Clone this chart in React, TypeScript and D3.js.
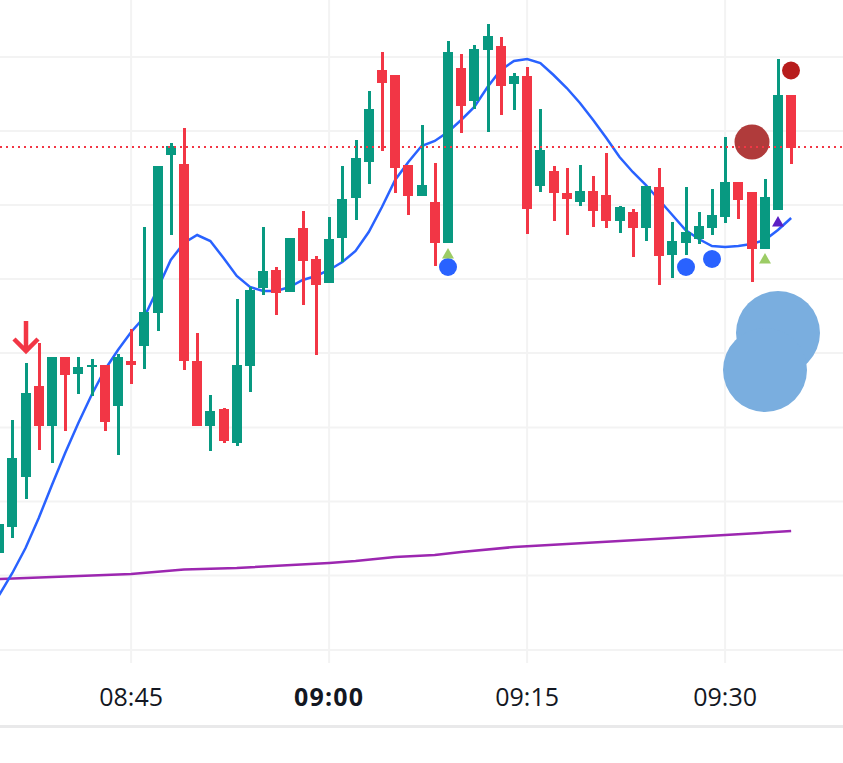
import { useEffect, useRef } from "react";
import * as d3 from "d3";

// one candle per minute, 08:35 to 09:35
const opens = [147,173,223,314,274,343,326,333,335,294,339,354,387,545,536,339,274,291,257,334,412,430,408,472,441,417,462,502,538,630,625,535,504,498,457,632,599,650,654,616,624,514,529,507,498,509,505,479,488,472,513,445,457,461,472,483,518,508,451,490,605];
const highs = [176,280,337,357,343,343,343,341,335,346,371,473,534,557,572,367,305,292,401,413,473,433,462,489,444,483,534,560,609,648,625,535,575,537,659,646,655,676,663,627,633,591,534,532,535,524,547,494,491,514,532,478,513,488,511,563,518,508,521,641,605];
const lows = [147,162,201,250,237,269,306,304,269,245,316,331,369,465,330,274,249,257,254,308,405,385,408,395,345,417,438,480,516,549,507,485,504,434,457,567,591,568,585,590,466,508,479,465,494,473,472,467,443,459,415,422,445,456,465,477,481,418,451,490,536];
const closes = [176,242,307,274,343,325,333,335,278,343,335,388,534,554,339,274,289,259,335,410,429,407,462,439,415,461,501,542,591,617,532,504,515,457,648,594,651,664,614,624,491,550,507,501,509,489,479,493,472,514,444,459,468,474,485,518,500,451,503,605,552];

const blueLine = [105,127,152,182,215,247,277,305,330,350,368,383,411,440,457,465,459,442,424,413,409,409,413,420,424,430,438,449,468,493,520,538,554,559,568,580,593,613,630,639,641,637,625,612,597,580,562,543,528,515,500,485,470,461,454,453,454,456,460,470,482];
const purpleMinutes = [0,10,14,18,25,27,30,33,35,39,43,55,60];
const purpleLine = [121,126,130.5,132,137,139,143,145,148,153,156,165,169];

const gridPrices = [50,124.5,198.5,272.5,347,421,495,569,643];
const tickLabels = ["08:45","09:00","09:15","09:30"];
const lastPrice = 553;

const blueDots: [number, number][] = [[34,433],[52,433],[54,441]];
const greenTriangles: [number, number][] = [[34,445],[58,440]];
const purpleTriangles: [number, number][] = [[59,477]];
const blueBubbles: [number, number][] = [[59,367],[58,330]];
const redBubbles: [number, number][] = [[57,558]];
const redDots: [number, number][] = [[60,629.5]];
const sellArrows: [number, number][] = [[2,349]];

const W = 843, H = 763;
const UP = "#089981", DOWN = "#f23645";

function timeAt(label: string) {
  const [h, m] = label.split(":").map(Number);
  return new Date(Date.UTC(2024, 0, 2, h, m));
}

export default function App() {
  const ref = useRef<SVGSVGElement>(null);

  useEffect(() => {
    if (!ref.current) return;
    const svg = d3.select(ref.current);
    svg.selectAll("*").remove();

    const t0 = timeAt("08:35");
    const minute = (i: number) => d3.utcMinute.offset(t0, i);
    const x = d3.scaleUtc().domain([t0, minute(60)]).range([-0.85, 791.15]);
    const y = d3.scaleLinear().domain([50, 643]).range([650, 57]);
    const px = (i: number) => Math.round(x(minute(i)));

    // grid
    svg.append("g").selectAll("line").data(gridPrices).join("line")
      .attr("x1", 0).attr("x2", W)
      .attr("y1", d => y(d)).attr("y2", d => y(d))
      .attr("stroke", "#f3f3f3").attr("stroke-width", 2);
    svg.append("g").selectAll("line").data(tickLabels).join("line")
      .attr("x1", d => x(timeAt(d))).attr("x2", d => x(timeAt(d)))
      .attr("y1", 0).attr("y2", 663)
      .attr("stroke", "#f3f3f3").attr("stroke-width", 2);

    // big bubbles sit under the candles
    const dots = (data: [number, number][], r: number, color: string) =>
      svg.append("g").selectAll("circle").data(data).join("circle")
        .attr("cx", d => px(d[0])).attr("cy", d => y(d[1]))
        .attr("r", r).attr("fill", color);

    dots(blueBubbles, 42, "#7aaedf");
    dots(redBubbles, 17.5, "#b03b3b");

    // moving averages
    const line = d3.line<[number, number]>()
      .x(d => x(minute(d[0]))).y(d => y(d[1]));
    svg.append("path")
      .attr("d", line(purpleLine.map((p, i) => [purpleMinutes[i], p] as [number, number]))!)
      .attr("fill", "none").attr("stroke", "#9c27b0").attr("stroke-width", 2.5);
    svg.append("path")
      .attr("d", line(blueLine.map((p, i) => [i, p] as [number, number]))!)
      .attr("fill", "none").attr("stroke", "#2962ff").attr("stroke-width", 2.5);

    // candles
    const candles = svg.append("g").attr("shape-rendering", "crispEdges");
    opens.forEach((o, i) => {
      const c = closes[i];
      const color = c >= o ? UP : DOWN;
      candles.append("rect")
        .attr("x", px(i) - 1).attr("width", 3)
        .attr("y", y(highs[i])).attr("height", y(lows[i]) - y(highs[i]))
        .attr("fill", color);
      candles.append("rect")
        .attr("x", px(i) - 5).attr("width", 10)
        .attr("y", y(Math.max(o, c))).attr("height", Math.abs(y(o) - y(c)))
        .attr("fill", color);
    });

    // last price
    svg.append("line")
      .attr("x1", 0).attr("x2", W)
      .attr("y1", y(lastPrice)).attr("y2", y(lastPrice))
      .attr("stroke", DOWN).attr("stroke-width", 2).attr("stroke-dasharray", "2 4");

    // markers
    dots(blueDots, 9, "#2962ff");
    dots(redDots, 9, "#b71c1c");

    const triangle = d3.symbol().type(d3.symbolTriangle).size(62);
    const triangles = (data: [number, number][], color: string) =>
      svg.append("g").selectAll("path").data(data).join("path")
        .attr("d", triangle()!)
        .attr("transform", d => `translate(${px(d[0])},${y(d[1])})`)
        .attr("fill", color);
    triangles(greenTriangles, "#9ccc65");
    triangles(purpleTriangles, "#5b1fc4");

    svg.append("g").selectAll("path").data(sellArrows).join("path")
      .attr("d", d => {
        const tx = px(d[0]), ty = y(d[1]);
        return `M${tx},${ty - 30}V${ty - 1}M${tx - 12},${ty - 12}L${tx},${ty}L${tx + 12},${ty - 12}`;
      })
      .attr("fill", "none").attr("stroke", DOWN).attr("stroke-width", 4.5);

    // time axis
    svg.append("line")
      .attr("x1", 0).attr("x2", W).attr("y1", 726.5).attr("y2", 726.5)
      .attr("stroke", "#e9e9ea").attr("stroke-width", 3);
    svg.append("g").selectAll("text").data(tickLabels).join("text")
      .attr("x", d => x(timeAt(d)))
      .attr("y", 705.5)
      .attr("text-anchor", "middle")
      .style("font-family", "'Open Sans', sans-serif")
      .style("font-size", "25px")
      .style("font-weight", d => (d === "09:00" ? 700 : 400))
      .style("letter-spacing", d => (d === "09:00" ? "1.2px" : "0"))
      .style("fill", "#131722")
      .text(d => d);
  }, []);

  return (
    <svg ref={ref} width={W} height={H}
      style={{ position: "absolute", left: 0, top: 0, background: "#fff" }} />
  );
}
